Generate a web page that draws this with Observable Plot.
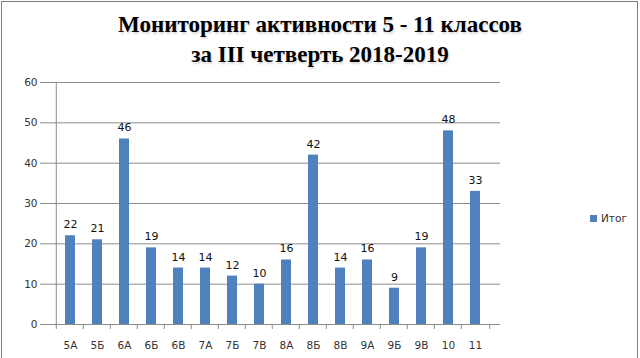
<!DOCTYPE html>
<html>
<head>
<meta charset="utf-8">
<script src="https://cdn.jsdelivr.net/npm/d3@7"></script>
<script src="https://cdn.jsdelivr.net/npm/@observablehq/plot@0.6"></script>
<style>
  html, body { margin: 0; padding: 0; background: #fff; }
  #wrap { position: relative; width: 640px; height: 358px; overflow: hidden; }
  #frame { position: absolute; left: 1px; top: 1px; width: 637px; height: 360px; border: 1px solid #7f7f7f; box-sizing: border-box; pointer-events: none; }
  #title { position: absolute; left: 0; top: 10px; width: 640px; text-align: center;
    font-family: "Liberation Serif", "Times New Roman", serif; font-weight: bold; font-size: 23px; line-height: 30px; color: #000;
    text-shadow: 1px 2px 2px rgba(0,0,0,0.15); }
  #legend { position: absolute; left: 590px; top: 212px; font-family: "DejaVu Sans", Verdana, sans-serif; font-size: 10.5px; color: #333; display: flex; align-items: center; }
  #legend .sw { width: 7px; height: 7px; background: #4f81bd; margin-right: 4px; }
  #chart { position: absolute; left: 0; top: 0; }
</style>
</head>
<body>
<div id="wrap">
  <div id="chart"></div>
  <div id="title">Мониторинг активности 5 - 11 классов<br>за III четверть 2018-2019</div>
  <div id="legend"><div class="sw"></div><span>Итог</span></div>
  <div id="frame"></div>
</div>
<script>
const classes = ["5А","5Б","6А","6Б","6В","7А","7Б","7В","8А","8Б","8В","9А","9Б","9В","10","11"];
const values = [22,21,46,19,14,14,12,10,16,42,14,16,9,19,48,33];
const yTicks = [0,10,20,30,40,50,60];
const seriesName = "Итог";

const data = classes.map((c, i) => ({cls: c, value: values[i]}));

const W = 640, H = 358;
const mL = 45, mR = 140, mT = 82, mB = 34;
const band = (W - mL - mR) / classes.length;

const plot = Plot.plot({
  width: W,
  height: H,
  marginLeft: mL,
  marginRight: mR,
  marginTop: mT,
  marginBottom: mB,
  style: {fontFamily: "DejaVu Sans, Verdana, sans-serif", fontSize: "10.5px", color: "#333", background: "transparent"},
  x: {domain: classes, padding: 0.64, label: null},
  y: {domain: [0, 60], label: null},
  marks: [
    Plot.gridY(yTicks, {stroke: "#8c8c8c", strokeOpacity: 1, strokeWidth: 1}),
    Plot.axisY(yTicks, {tickSize: 5, tickPadding: 3, stroke: "#8c8c8c", fill: "#333", label: null}),
    Plot.ruleX([classes[0]], {x: d => d, dx: -band / 2, y1: 0, y2: 60, stroke: "#8c8c8c"}),
    Plot.rectY(data, {x: "cls", y: "value", fill: "#4f81bd"}),
    Plot.text(data, {x: "cls", y: "value", text: d => String(d.value), dy: -11, fill: "#111", fontSize: 11}),
    Plot.ruleY([0], {stroke: "#8c8c8c"}),
    // boundary tick marks below the category axis
    Plot.ruleX(classes, {x: d => d, dx: -band / 2, y1: 0, y2: 0, insetBottom: -5, stroke: "#8c8c8c"}),
    Plot.ruleX([classes[classes.length - 1]], {x: d => d, dx: band / 2, y1: 0, y2: 0, insetBottom: -5, stroke: "#8c8c8c"}),
    Plot.axisX({tickSize: 0, tickPadding: 17, fill: "#333", label: null})
  ]
});
document.getElementById("chart").appendChild(plot);
</script>
</body>
</html>
